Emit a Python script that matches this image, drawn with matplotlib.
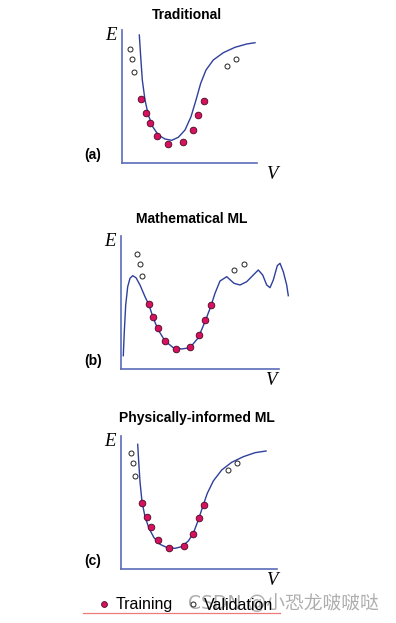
import matplotlib
matplotlib.use("Agg")
import matplotlib.pyplot as plt
from matplotlib.lines import Line2D

# picture is 396 x 623 px; panel data are in pixel-like units from each panel's origin
W_PX, H_PX = 396, 623

titles = ["Traditional", "Mathematical ML", "Physically-informed ML"]
tags = ["(a)", "(b)", "(c)"]

# --- (a) Traditional
curve_a_x = [17.3, 18.7, 20.3, 23, 26.3, 30.7, 36.3, 43, 49.7, 56.3, 63, 69, 74, 78.7, 84, 91.3, 101.3, 113, 124.7, 133]
curve_a_y = [127.7, 106, 82.7, 62.7, 47.7, 36, 27.7, 23.7, 22.4, 25.4, 32.7, 46, 62.7, 79.4, 92.7, 102.7, 110, 115.4, 118.7, 120]
train_a_x = [19.3, 24, 28.3, 35.3, 46.3, 61, 70.7, 76.3, 82]
train_a_y = [63.7, 50, 39.7, 26.4, 18.4, 20.7, 32.7, 47.7, 62]
valid_a_x = [8, 10.3, 12.3, 105, 114]
valid_a_y = [113.4, 103.4, 90.7, 97, 103.4]

# --- (b) Mathematical ML
curve_b_x = [2.3, 3.3, 4.7, 6.7, 9, 11.7, 15, 19, 24, 28, 32.3, 37.3, 44, 52.3, 60.7, 69, 77.3, 84,
             89.7, 94, 99, 105.7, 113, 119, 125.7, 132.3, 137.3, 141.7, 145.7, 149, 152.3, 156.3,
             159, 162.3, 165.7, 167.3]
curve_b_y = [13.3, 37.3, 64, 82.3, 90.7, 93.3, 91.3, 84, 72.3, 64, 50.7, 39, 28, 21.3, 20, 21.3, 31.3, 47.3,
             62.3, 75.7, 88, 92.3, 85.7, 84, 87.3, 94, 99, 94, 84, 81.3, 89, 103.3,
             105.7, 97.3, 84, 73.3]
train_b_x = [28, 32.3, 36.7, 44, 54.7, 69.3, 78.3, 84.3, 90.3]
train_b_y = [65.3, 51.7, 41.3, 28, 20, 22.3, 34.3, 49.3, 63.7]
valid_b_x = [16.3, 18.7, 21, 113.3, 122.7]
valid_b_y = [115.3, 105, 92.7, 98.7, 105]

# --- (c) Physically-informed ML
curve_c_x = [16.4, 17.4, 18.7, 20.7, 23.7, 27.7, 32.7, 38.7, 46, 53.7, 60.4, 67, 72, 77, 81.4, 86, 92,
             100.4, 110.4, 122, 133.7, 144.7]
curve_c_y = [124.7, 107.3, 87.3, 67.3, 52.3, 40.7, 31.3, 24.7, 21.3, 20.7, 22.3, 28, 35.7, 49, 62.3, 75.7, 88,
             99, 106.7, 112.3, 116.3, 118]
train_c_x = [20.7, 25.7, 29.7, 36.7, 47.7, 62.4, 72, 77.4, 83]
train_c_y = [66.3, 52.3, 42.3, 29, 20.7, 23, 35, 50.7, 64.3]
valid_c_x = [9.4, 11.4, 14, 106.7, 115.7]
valid_c_y = [116.3, 105.7, 93.3, 99.3, 105.7]

panels = [
    (curve_a_x, curve_a_y, train_a_x, train_a_y, valid_a_x, valid_a_y),
    (curve_b_x, curve_b_y, train_b_x, train_b_y, valid_b_x, valid_b_y),
    (curve_c_x, curve_c_y, train_c_x, train_c_y, valid_c_x, valid_c_y),
]

# layout (pixels): axis origin, axis length x, axis length y
origins = [(122, 162.7), (121, 369), (121.3, 569)]
spans = [(135, 132.7), (158, 133.3), (155.4, 133.3)]
title_pos = [(186.7, 15), (191.7, 219), (196.7, 418)]

axis_col = "#5a6cb8"
curve_col = "#2f3f9c"
train_col = "#d6115f"

fig = plt.figure(figsize=(W_PX / 100, H_PX / 100), dpi=100)


def fx(px):
    return px / W_PX


def fy(py):
    return 1 - py / H_PX


for i, (cx, cy, tx, ty, vx, vy) in enumerate(panels):
    ox, oy = origins[i]
    w, h = spans[i]
    ax = fig.add_axes([fx(ox), fy(oy), w / W_PX, h / H_PX])
    ax.set_xlim(0, w)
    ax.set_ylim(0, h)
    ax.patch.set_visible(False)
    for s in ["top", "right"]:
        ax.spines[s].set_visible(False)
    for s in ["left", "bottom"]:
        ax.spines[s].set_color(axis_col)
        ax.spines[s].set_linewidth(1.2)
    ax.set_xticks([])
    ax.set_yticks([])

    ax.plot(cx, cy, color=curve_col, lw=1.0, clip_on=False, zorder=2)
    ax.plot(tx, ty, "o", ms=4.8, mfc=train_col, mec="#4a0a22", mew=0.6, clip_on=False, zorder=3)
    ax.plot(vx, vy, "o", ms=3.6, mfc="white", mec="#222222", mew=0.7, clip_on=False, zorder=3)

    fig.text(fx(title_pos[i][0]), fy(title_pos[i][1]), titles[i], ha="center", va="center",
             fontsize=10, fontweight="bold", family="Liberation Sans")
    fig.text(fx(ox - 11.3), fy(oy - h + 6), "E", ha="center", va="center",
             fontsize=13.5, style="italic", family="Liberation Serif")
    fig.text(fx(ox + 150), fy(oy + 11.5), "V", ha="center", va="center",
             fontsize=13.5, style="italic", family="Liberation Serif")
    fig.text(fx(92.7), fy(oy - 7.5), tags[i], ha="center", va="center",
             fontsize=10, fontweight="bold", family="Liberation Sans")

# legend
h_train = Line2D([], [], ls="none", marker="o", ms=4.2, mfc=train_col, mec="#4a0a22", mew=0.6)
h_valid = Line2D([], [], ls="none", marker="o", ms=3.6, mfc="white", mec="#222222", mew=0.7)
fig.legend([h_train, h_valid], ["Training", "Validation"], ncol=2, frameon=False,
           loc="center left", bbox_to_anchor=(fx(90), fy(605)),
           prop={"family": "Liberation Sans", "size": 11.5},
           handlelength=0.8, handletextpad=0.3, columnspacing=0.85, borderpad=0)

# page decorations
fig.add_artist(Line2D([fx(83), fx(280)], [fy(613), fy(613)], color="#f07a7a", lw=0.9))
fig.text(fx(188), fy(603), "CSDN @小恐龙啵啵哒", ha="left", va="center", fontsize=13.5,
         color="#9a9a9a", alpha=0.8, family=["DejaVu Sans", "Noto Sans CJK SC"])

fig.savefig("out.png", dpi=100)
